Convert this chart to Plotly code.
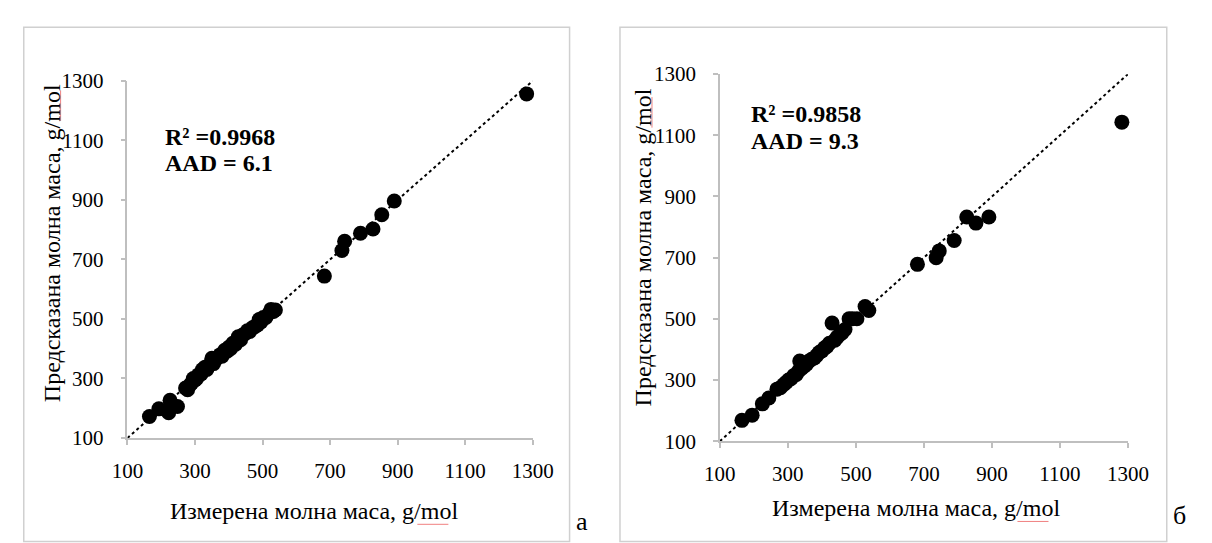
import plotly.graph_objects as go

# Panel а
a_measured = [165, 193, 222, 226, 248, 272, 278, 285, 290, 295, 300, 305, 310, 318, 322,
              330, 335, 342, 350, 355, 362, 368, 375, 380, 388, 395, 400, 405, 412, 420,
              428, 435, 440, 448, 455, 462, 470, 478, 485, 490, 495, 502, 510, 520, 525,
              532, 538, 683, 735, 743, 790, 827, 853, 890, 1282]
a_predicted = [172, 198, 185, 227, 206, 268, 262, 278, 285, 300, 295, 300, 312, 315, 330,
               338, 330, 345, 368, 350, 365, 372, 380, 375, 395, 392, 405, 400, 418, 415,
               440, 430, 445, 450, 460, 458, 470, 475, 480, 498, 490, 505, 505, 520, 532,
               525, 530, 644, 730, 761, 788, 802, 850, 896, 1256]

# Panel б
b_measured = [165, 195, 225, 244, 268, 278, 288, 295, 302, 310, 318, 325, 332, 335, 340,
              348, 355, 362, 370, 378, 385, 392, 400, 408, 415, 422, 430, 438, 445, 452,
              460, 468, 480, 490, 503, 527, 538, 681, 736, 745, 789, 826, 853, 891, 1282]
b_predicted = [168, 185, 222, 241, 270, 275, 285, 292, 300, 305, 315, 318, 330, 362, 338,
               345, 352, 362, 368, 372, 380, 390, 395, 405, 410, 420, 486, 430, 440, 448,
               455, 465, 500, 500, 500, 540, 527, 678, 700, 722, 756, 833, 813, 833, 1143]

diag = [100, 1300]
ticks = [100, 300, 500, 700, 900, 1100, 1300]
tick_text = ["100", "300", "500", "700", "900", "1100", "1300"]

x_title = "Измерена молна маса, g/mol"
y_title = "Предсказана молна маса, g/mol"
stats_a = ["R² =0.9968", "AAD = 6.1"]
stats_b = ["R² =0.9858", "AAD = 9.3"]
panel_labels = ["а", "б"]

W, H = 1212, 543
FONT = "Liberation Serif, Times New Roman, serif"

def px_x(p):
    return p / W

def px_y(p):
    return 1 - p / H

fig = go.Figure()

for xs, ys, xa, ya in [(a_measured, a_predicted, "x", "y"), (b_measured, b_predicted, "x2", "y2")]:
    fig.add_trace(go.Scatter(x=diag, y=diag, mode="lines", xaxis=xa, yaxis=ya,
                             line=dict(color="black", width=2, dash="dot"),
                             showlegend=False, hoverinfo="skip"))
    fig.add_trace(go.Scatter(x=xs, y=ys, mode="markers", xaxis=xa, yaxis=ya,
                             marker=dict(color="black", size=15, line=dict(width=0)),
                             cliponaxis=False, showlegend=False))

axis_common = dict(range=[100, 1300], tickvals=ticks, ticktext=tick_text,
                   showgrid=False, zeroline=False, showline=True,
                   linecolor="#bfbfbf", linewidth=1.5,
                   ticks="outside", ticklen=5, tickwidth=1.5, tickcolor="#bfbfbf",
                   tickfont=dict(family=FONT, size=21, color="black"))

fig.update_layout(
    width=W, height=H,
    margin=dict(l=0, r=0, t=0, b=0),
    paper_bgcolor="white", plot_bgcolor="white",
    xaxis=dict(domain=[px_x(115), px_x(533)], anchor="y", ticklabelstandoff=8, **axis_common),
    yaxis=dict(domain=[px_y(445.7), px_y(72)], anchor="x", ticklabelstandoff=13, **axis_common),
    xaxis2=dict(domain=[px_x(726), px_x(1147)], anchor="y2", ticklabelstandoff=8, **axis_common),
    yaxis2=dict(domain=[px_y(449), px_y(65)], anchor="x2", ticklabelstandoff=13, **axis_common),
)

shapes = []
for x0, x1 in [(8, 571), (623, 1187)]:
    shapes.append(dict(type="rect", xref="paper", yref="paper",
                       x0=px_x(x0), x1=px_x(x1), y0=-0.02, y1=px_y(16),
                       line=dict(color="#d0d0d0", width=1.5), fillcolor="rgba(0,0,0,0)",
                       layer="below"))
# spell-check underlines under "mol"
for (x0, x1, y) in [(414, 446, 536), (1033, 1065, 533)]:
    shapes.append(dict(type="line", xref="paper", yref="paper",
                       x0=px_x(x0), x1=px_x(x1), y0=px_y(y), y1=px_y(y),
                       line=dict(color="#f08080", width=1)))
for (x, y0, y1) in [(46, 82, 114), (656, 89, 121)]:
    shapes.append(dict(type="line", xref="paper", yref="paper",
                       x0=px_x(x), x1=px_x(x), y0=px_y(y0), y1=px_y(y1),
                       line=dict(color="#f08080", width=1)))
fig.update_layout(shapes=shapes)

ann = []
# axis titles
for x_left, x_ty, y_ty, y_cx, y_cy in [(157, 523, 522, 37, 242), (778, 517, 519, 647, 246)]:
    ann.append(dict(text=x_title, xref="paper", yref="paper", x=px_x(x_left), y=px_y(y_ty),
                    xanchor="left", yanchor="middle", showarrow=False,
                    font=dict(family=FONT, size=24, color="black")))
    ann.append(dict(text=y_title, xref="paper", yref="paper", x=px_x(y_cx), y=px_y(y_cy),
                    xanchor="center", yanchor="middle", showarrow=False, textangle=-90,
                    font=dict(family=FONT, size=24, color="black")))
# stats
for stats, x_left, y1, y2 in [(stats_a, 152, 131, 158), (stats_b, 756, 107, 135)]:
    for s, yy in zip(stats, [y1, y2]):
        ann.append(dict(text="<b>" + s + "</b>", xref="paper", yref="paper",
                        x=px_x(x_left), y=px_y(yy), xanchor="left", yanchor="middle",
                        showarrow=False, font=dict(family=FONT, size=24, color="black")))
# panel labels
for lab, lx, ly in zip(panel_labels, [584, 1200], [533, 527]):
    ann.append(dict(text=lab, xref="paper", yref="paper", x=px_x(lx), y=px_y(ly),
                    xanchor="center", yanchor="middle", showarrow=False,
                    font=dict(family=FONT, size=26, color="black")))
fig.update_layout(annotations=ann)

fig.write_html("out.html")
